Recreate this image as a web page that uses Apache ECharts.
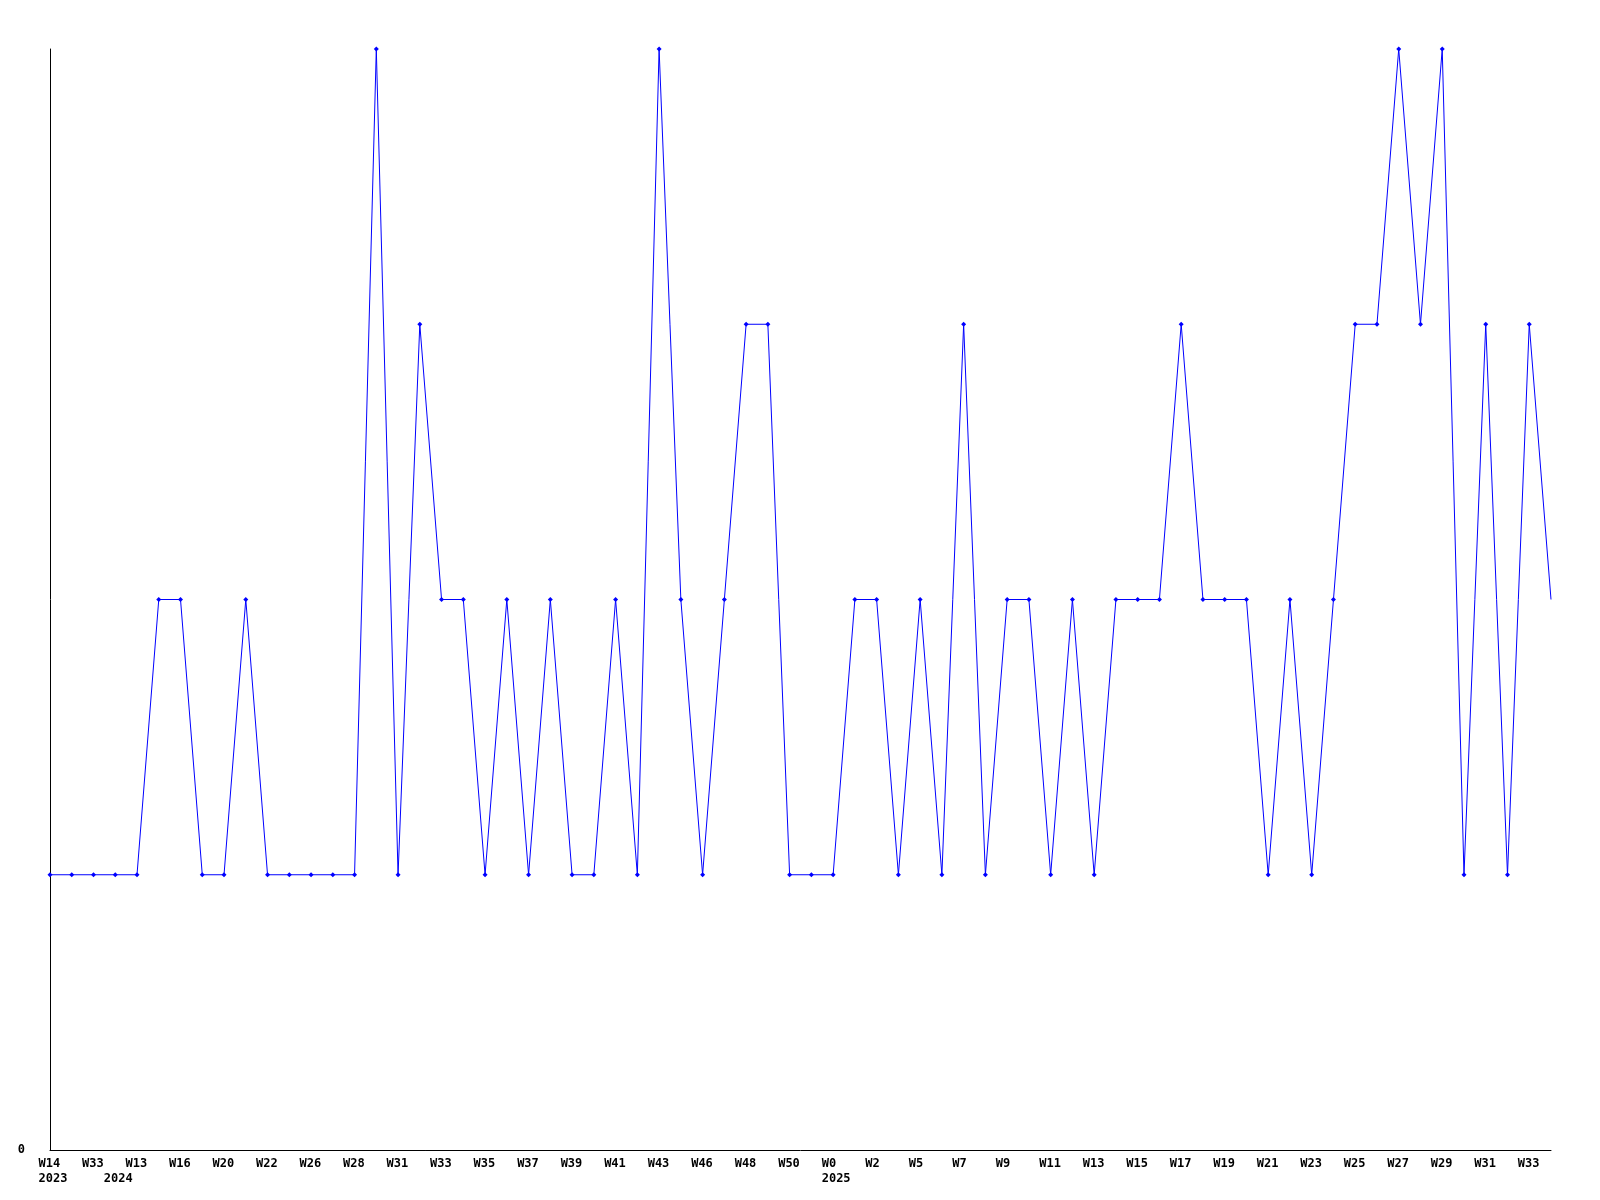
<!DOCTYPE html>
<html>
<head>
<meta charset="utf-8">
<script src="https://cdn.jsdelivr.net/npm/echarts@6/dist/echarts.min.js"></script>
<style>
html,body{margin:0;padding:0;background:#fff;}
#chart{width:1600px;height:1200px;}
</style>
</head>
<body>
<div id="chart"></div>
<script>
// Week labels for each point (odd-index labels are not shown in the reference; estimated)
const weeks = [
  'W14','W20','W33','W12','W13','W15','W16','W18','W20','W21',
  'W22','W24','W26','W27','W28','W29','W31','W32','W33','W34',
  'W35','W36','W37','W38','W39','W40','W41','W42','W43','W44',
  'W46','W47','W48','W49','W50','W51','W0','W1','W2','W4',
  'W5','W6','W7','W8','W9','W10','W11','W12','W13','W14',
  'W15','W16','W17','W18','W19','W20','W21','W22','W23','W24',
  'W25','W26','W27','W28','W29','W30','W31','W32','W33','W34'
];
const years = [
  2023,2023,2023,2024,2024,2024,2024,2024,2024,2024,
  2024,2024,2024,2024,2024,2024,2024,2024,2024,2024,
  2024,2024,2024,2024,2024,2024,2024,2024,2024,2024,
  2024,2024,2024,2024,2024,2024,2025,2025,2025,2025,
  2025,2025,2025,2025,2025,2025,2025,2025,2025,2025,
  2025,2025,2025,2025,2025,2025,2025,2025,2025,2025,
  2025,2025,2025,2025,2025,2025,2025,2025,2025,2025
];
const values = [
  1,1,1,1,1,2,2,1,1,2,
  1,1,1,1,1,4,1,3,2,2,
  1,2,1,2,1,1,2,1,4,2,
  1,2,3,3,1,1,1,2,2,1,
  2,1,3,1,2,2,1,2,1,2,
  2,2,3,2,2,2,1,2,1,2,
  3,3,4,3,4,1,3,1,3,2
];
const yTickLabels = ['0'];

const categories = weeks.map((w, i) => w + '|' + years[i]);
const seriesData = values.map((v, i) => i === values.length - 1 ? {value: v, symbol: 'none'} : v);

const pad = s => (s + '    ').slice(0, 4);

const chart = echarts.init(document.getElementById('chart'), null, {renderer: 'canvas'});
chart.setOption({
  animation: false,
  backgroundColor: '#ffffff',
  grid: {left: 50, right: 49, top: 49, bottom: 50, containLabel: false},
  xAxis: {
    type: 'category',
    data: categories,
    boundaryGap: false,
    axisLine: {show: true, lineStyle: {color: '#000', width: 1}},
    axisTick: {show: false},
    splitLine: {show: false},
    axisLabel: {
      interval: 0,
      hideOverlap: false,
      margin: 6,
      padding: [0, 0, 0, 6],
      color: '#000',
      fontFamily: 'DejaVu Sans Mono',
      fontWeight: 'bold',
      fontSize: 12,
      lineHeight: 15,
      formatter: function (val, idx) {
        const w = idx % 2 === 0 ? pad(weeks[idx]) : '    ';
        const firstOfYear = idx === 0 || years[idx - 1] !== years[idx];
        if (firstOfYear) return w + '\n' + years[idx];
        return idx % 2 === 0 ? w : '';
      }
    }
  },
  yAxis: {
    type: 'value',
    min: 0,
    max: 4,
    interval: 1,
    axisLine: {show: true, lineStyle: {color: '#000', width: 1}},
    axisTick: {show: false},
    splitLine: {show: false},
    axisLabel: {
      margin: 25,
      color: '#000',
      fontFamily: 'DejaVu Sans Mono',
      fontWeight: 'bold',
      fontSize: 12,
      formatter: v => (v === 0 ? yTickLabels[0] : '')
    }
  },
  series: [{
    type: 'line',
    data: seriesData,
    symbol: 'diamond',
    symbolSize: 5,
    showAllSymbol: true,
    lineStyle: {color: '#0000ff', width: 1},
    itemStyle: {color: '#0000ff'},
    emphasis: {disabled: true}
  }]
});
</script>
</body>
</html>
